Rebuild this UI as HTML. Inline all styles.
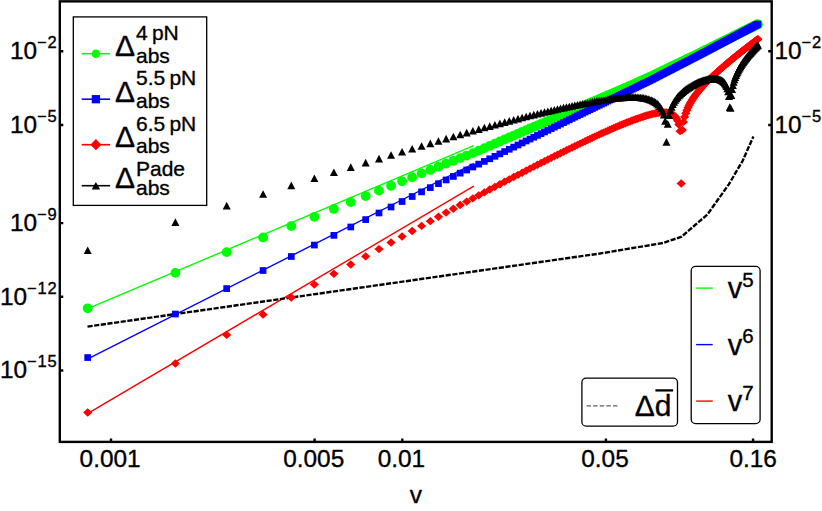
<!DOCTYPE html>
<html><head><meta charset="utf-8"><title>chart</title><style>html,body{margin:0;padding:0;background:#fff;overflow:hidden}svg{display:block}</style></head><body>
<svg width="822" height="511" viewBox="0 0 822 511" font-family="'Liberation Sans', sans-serif" fill="#000">
<style>text{stroke:#000;stroke-width:0.35px}</style>
<rect width="822" height="511" fill="#fff"/>
<defs>
<circle id="mc" r="4.9" fill="#00ff00"/>
<rect id="ms" x="-3.35" y="-3.35" width="6.7" height="6.7" fill="#0000ff"/>
<path id="md" d="M0,-4.2L4.6,0L0,4.2L-4.6,0Z" fill="#ff0000"/>
<path id="mt" d="M0,-3.8L4,3.8L-4,3.8Z" fill="#000"/>
<circle id="lc" r="4.25" fill="#00ff00"/>
<rect id="ls" x="-4.15" y="-4.15" width="8.3" height="8.3" fill="#0000ff"/>
<path id="ld" d="M0,-5.6L5.5,0L0,5.6L-5.5,0Z" fill="#ff0000"/>
<path id="lt" d="M0,-3.7L4.25,3.7L-4.25,3.7Z" fill="#000"/>
<clipPath id="cp"><rect x="59.8" y="1.35" width="711.9" height="440.55"/></clipPath>
</defs>
<g clip-path="url(#cp)">
<polyline points="87.7,308.7 473.8,145.6" fill="none" stroke="#00ff00" stroke-width="1.4"/>
<polyline points="87.85,358.8 473.8,163.5" fill="none" stroke="#0000ff" stroke-width="1.4"/>
<polyline points="87.9,413.4 473.8,186.2" fill="none" stroke="#ff0000" stroke-width="1.4"/>
<polyline points="87.5,326.6 600,253.5 663,243 681.6,236.7 707.4,214.5 728.8,184.4 742.5,161.1 753.4,136.4" fill="none" stroke="#000" stroke-width="2.4" stroke-dasharray="5.2 1.5"/>
<g><use href="#mc" x="87.7" y="308.3"/><use href="#mc" x="175.39" y="272.85"/><use href="#mc" x="226.69" y="252.14"/><use href="#mc" x="263.08" y="237.44"/><use href="#mc" x="291.31" y="226.08"/><use href="#mc" x="314.38" y="216.79"/><use href="#mc" x="333.88" y="208.94"/><use href="#mc" x="350.77" y="202.13"/><use href="#mc" x="365.67" y="196.08"/><use href="#mc" x="379" y="190.66"/><use href="#mc" x="391.06" y="185.77"/><use href="#mc" x="402.07" y="181.29"/><use href="#mc" x="412.19" y="177.18"/><use href="#mc" x="421.57" y="173.37"/><use href="#mc" x="430.3" y="169.92"/><use href="#mc" x="438.46" y="166.69"/><use href="#mc" x="446.13" y="163.66"/><use href="#mc" x="453.36" y="160.81"/><use href="#mc" x="460.2" y="158.1"/><use href="#mc" x="466.69" y="155.57"/><use href="#mc" x="472.86" y="153.16"/><use href="#mc" x="478.75" y="150.65"/><use href="#mc" x="484.37" y="148.21"/><use href="#mc" x="489.76" y="145.88"/><use href="#mc" x="494.92" y="143.64"/><use href="#mc" x="499.88" y="141.49"/><use href="#mc" x="504.66" y="139.44"/><use href="#mc" x="509.26" y="137.46"/><use href="#mc" x="513.7" y="135.55"/><use href="#mc" x="517.99" y="133.7"/><use href="#mc" x="522.13" y="131.92"/><use href="#mc" x="526.15" y="130.19"/><use href="#mc" x="530.04" y="128.52"/><use href="#mc" x="533.82" y="126.94"/><use href="#mc" x="537.49" y="125.4"/><use href="#mc" x="541.05" y="123.86"/><use href="#mc" x="544.52" y="122.36"/><use href="#mc" x="547.89" y="120.9"/><use href="#mc" x="551.18" y="119.48"/><use href="#mc" x="554.38" y="118.09"/><use href="#mc" x="557.5" y="116.74"/><use href="#mc" x="560.55" y="115.42"/><use href="#mc" x="563.53" y="114.17"/><use href="#mc" x="566.44" y="112.94"/><use href="#mc" x="569.28" y="111.74"/><use href="#mc" x="572.06" y="110.57"/><use href="#mc" x="574.78" y="109.42"/><use href="#mc" x="577.45" y="108.3"/><use href="#mc" x="580.05" y="107.2"/><use href="#mc" x="582.61" y="106.12"/><use href="#mc" x="585.12" y="105.06"/><use href="#mc" x="587.57" y="104.03"/><use href="#mc" x="589.98" y="103.01"/><use href="#mc" x="592.35" y="102.01"/><use href="#mc" x="594.67" y="101.03"/><use href="#mc" x="596.95" y="100.07"/><use href="#mc" x="599.19" y="99.13"/><use href="#mc" x="601.39" y="98.19"/><use href="#mc" x="603.55" y="97.26"/><use href="#mc" x="605.68" y="96.35"/><use href="#mc" x="607.77" y="95.46"/><use href="#mc" x="609.82" y="94.58"/><use href="#mc" x="611.85" y="93.71"/><use href="#mc" x="613.84" y="92.86"/><use href="#mc" x="615.8" y="92.02"/><use href="#mc" x="617.73" y="91.19"/><use href="#mc" x="619.64" y="90.37"/><use href="#mc" x="621.51" y="89.57"/><use href="#mc" x="623.36" y="88.78"/><use href="#mc" x="625.18" y="88"/><use href="#mc" x="626.97" y="87.2"/><use href="#mc" x="628.74" y="86.41"/><use href="#mc" x="630.49" y="85.63"/><use href="#mc" x="632.21" y="84.86"/><use href="#mc" x="633.91" y="84.1"/><use href="#mc" x="635.58" y="83.35"/><use href="#mc" x="637.23" y="82.61"/><use href="#mc" x="638.87" y="81.88"/><use href="#mc" x="640.48" y="81.16"/><use href="#mc" x="642.07" y="80.45"/><use href="#mc" x="643.64" y="79.75"/><use href="#mc" x="645.19" y="79.06"/><use href="#mc" x="646.73" y="78.37"/><use href="#mc" x="648.24" y="77.69"/><use href="#mc" x="649.74" y="77.02"/><use href="#mc" x="651.22" y="76.32"/><use href="#mc" x="652.68" y="75.62"/><use href="#mc" x="654.13" y="74.93"/><use href="#mc" x="655.56" y="74.24"/><use href="#mc" x="656.97" y="73.57"/><use href="#mc" x="658.37" y="72.9"/><use href="#mc" x="659.75" y="72.23"/><use href="#mc" x="661.12" y="71.58"/><use href="#mc" x="662.47" y="70.93"/><use href="#mc" x="663.81" y="70.29"/><use href="#mc" x="665.14" y="69.66"/><use href="#mc" x="666.45" y="69.03"/><use href="#mc" x="667.74" y="68.41"/><use href="#mc" x="669.03" y="67.79"/><use href="#mc" x="670.3" y="67.18"/><use href="#mc" x="671.56" y="66.58"/><use href="#mc" x="672.81" y="65.98"/><use href="#mc" x="674.04" y="65.39"/><use href="#mc" x="675.26" y="64.8"/><use href="#mc" x="676.47" y="64.22"/><use href="#mc" x="677.67" y="63.65"/><use href="#mc" x="678.86" y="63.08"/><use href="#mc" x="680.04" y="62.52"/><use href="#mc" x="681.2" y="61.96"/><use href="#mc" x="682.36" y="61.4"/><use href="#mc" x="683.5" y="60.86"/><use href="#mc" x="684.64" y="60.31"/><use href="#mc" x="685.76" y="59.77"/><use href="#mc" x="686.88" y="59.24"/><use href="#mc" x="687.98" y="58.71"/><use href="#mc" x="689.08" y="58.19"/><use href="#mc" x="690.16" y="57.66"/><use href="#mc" x="691.24" y="57.15"/><use href="#mc" x="692.31" y="56.64"/><use href="#mc" x="693.37" y="56.13"/><use href="#mc" x="694.42" y="55.63"/><use href="#mc" x="695.46" y="55.13"/><use href="#mc" x="696.49" y="54.63"/><use href="#mc" x="697.51" y="54.14"/><use href="#mc" x="698.53" y="53.66"/><use href="#mc" x="699.54" y="53.17"/><use href="#mc" x="700.54" y="52.68"/><use href="#mc" x="701.53" y="52.19"/><use href="#mc" x="702.51" y="51.7"/><use href="#mc" x="703.49" y="51.21"/><use href="#mc" x="704.46" y="50.73"/><use href="#mc" x="705.42" y="50.25"/><use href="#mc" x="706.38" y="49.78"/><use href="#mc" x="707.33" y="49.31"/><use href="#mc" x="708.27" y="48.84"/><use href="#mc" x="709.2" y="48.38"/><use href="#mc" x="710.13" y="47.91"/><use href="#mc" x="711.05" y="47.46"/><use href="#mc" x="711.96" y="47"/><use href="#mc" x="712.87" y="46.55"/><use href="#mc" x="713.77" y="46.1"/><use href="#mc" x="714.66" y="45.66"/><use href="#mc" x="715.55" y="45.22"/><use href="#mc" x="716.43" y="44.78"/><use href="#mc" x="717.31" y="44.34"/><use href="#mc" x="718.18" y="43.91"/><use href="#mc" x="719.04" y="43.48"/><use href="#mc" x="719.9" y="43.05"/><use href="#mc" x="720.75" y="42.63"/><use href="#mc" x="721.6" y="42.21"/><use href="#mc" x="722.44" y="41.79"/><use href="#mc" x="723.27" y="41.38"/><use href="#mc" x="724.1" y="40.96"/><use href="#mc" x="724.92" y="40.55"/><use href="#mc" x="725.74" y="40.15"/><use href="#mc" x="726.56" y="39.74"/><use href="#mc" x="727.37" y="39.34"/><use href="#mc" x="728.17" y="38.94"/><use href="#mc" x="728.97" y="38.54"/><use href="#mc" x="729.76" y="38.15"/><use href="#mc" x="730.55" y="37.76"/><use href="#mc" x="731.33" y="37.37"/><use href="#mc" x="732.11" y="36.98"/><use href="#mc" x="732.88" y="36.59"/><use href="#mc" x="733.65" y="36.21"/><use href="#mc" x="734.42" y="35.83"/><use href="#mc" x="735.18" y="35.45"/><use href="#mc" x="735.93" y="35.08"/><use href="#mc" x="736.68" y="34.7"/><use href="#mc" x="737.43" y="34.33"/><use href="#mc" x="738.17" y="33.96"/><use href="#mc" x="738.91" y="33.6"/><use href="#mc" x="739.64" y="33.23"/><use href="#mc" x="740.37" y="32.87"/><use href="#mc" x="741.1" y="32.51"/><use href="#mc" x="741.82" y="32.15"/><use href="#mc" x="742.53" y="31.79"/><use href="#mc" x="743.25" y="31.44"/><use href="#mc" x="743.96" y="31.09"/><use href="#mc" x="744.66" y="30.74"/><use href="#mc" x="745.36" y="30.39"/><use href="#mc" x="746.06" y="30.04"/><use href="#mc" x="746.75" y="29.7"/><use href="#mc" x="747.44" y="29.35"/><use href="#mc" x="748.13" y="29.01"/><use href="#mc" x="748.81" y="28.67"/><use href="#mc" x="749.49" y="28.34"/><use href="#mc" x="750.16" y="28"/><use href="#mc" x="750.83" y="27.67"/><use href="#mc" x="751.5" y="27.33"/><use href="#mc" x="752.17" y="27"/><use href="#mc" x="752.83" y="26.68"/><use href="#mc" x="753.48" y="26.35"/><use href="#mc" x="754.14" y="26.02"/><use href="#mc" x="754.79" y="25.7"/><use href="#mc" x="755.43" y="25.38"/><use href="#mc" x="756.08" y="25.06"/><use href="#mc" x="756.72" y="24.74"/><use href="#mc" x="757.36" y="24.42"/><use href="#mc" x="757.99" y="24.4"/></g>
<g><use href="#ms" x="87.7" y="357.55"/><use href="#ms" x="175.39" y="314.03"/><use href="#ms" x="226.69" y="288.57"/><use href="#ms" x="263.08" y="270.51"/><use href="#ms" x="291.31" y="256.5"/><use href="#ms" x="314.38" y="245.05"/><use href="#ms" x="333.88" y="235.37"/><use href="#ms" x="350.77" y="226.99"/><use href="#ms" x="365.67" y="219.59"/><use href="#ms" x="379" y="212.98"/><use href="#ms" x="391.06" y="206.99"/><use href="#ms" x="402.07" y="201.53"/><use href="#ms" x="412.19" y="196.51"/><use href="#ms" x="421.57" y="191.87"/><use href="#ms" x="430.3" y="187.64"/><use href="#ms" x="438.46" y="183.68"/><use href="#ms" x="446.13" y="179.96"/><use href="#ms" x="453.36" y="176.45"/><use href="#ms" x="460.2" y="173.13"/><use href="#ms" x="466.69" y="169.99"/><use href="#ms" x="472.86" y="166.99"/><use href="#ms" x="478.75" y="164.14"/><use href="#ms" x="484.37" y="161.41"/><use href="#ms" x="489.76" y="158.8"/><use href="#ms" x="494.92" y="156.29"/><use href="#ms" x="499.88" y="153.89"/><use href="#ms" x="504.66" y="151.54"/><use href="#ms" x="509.26" y="149.28"/><use href="#ms" x="513.7" y="147.1"/><use href="#ms" x="517.99" y="145"/><use href="#ms" x="522.13" y="142.96"/><use href="#ms" x="526.15" y="140.98"/><use href="#ms" x="530.04" y="139.07"/><use href="#ms" x="533.82" y="137.22"/><use href="#ms" x="537.49" y="135.42"/><use href="#ms" x="541.05" y="133.66"/><use href="#ms" x="544.52" y="131.96"/><use href="#ms" x="547.89" y="130.3"/><use href="#ms" x="551.18" y="128.69"/><use href="#ms" x="554.38" y="127.12"/><use href="#ms" x="557.5" y="125.58"/><use href="#ms" x="560.55" y="124.08"/><use href="#ms" x="563.53" y="122.62"/><use href="#ms" x="566.44" y="121.19"/><use href="#ms" x="569.28" y="119.8"/><use href="#ms" x="572.06" y="118.43"/><use href="#ms" x="574.78" y="117.09"/><use href="#ms" x="577.45" y="115.79"/><use href="#ms" x="580.05" y="114.5"/><use href="#ms" x="582.61" y="113.27"/><use href="#ms" x="585.12" y="112.05"/><use href="#ms" x="587.57" y="110.86"/><use href="#ms" x="589.98" y="109.69"/><use href="#ms" x="592.35" y="108.55"/><use href="#ms" x="594.67" y="107.42"/><use href="#ms" x="596.95" y="106.32"/><use href="#ms" x="599.19" y="105.23"/><use href="#ms" x="601.39" y="104.17"/><use href="#ms" x="603.55" y="103.12"/><use href="#ms" x="605.68" y="102.09"/><use href="#ms" x="607.77" y="101.07"/><use href="#ms" x="609.82" y="100.08"/><use href="#ms" x="611.85" y="99.1"/><use href="#ms" x="613.84" y="98.13"/><use href="#ms" x="615.8" y="97.18"/><use href="#ms" x="617.73" y="96.24"/><use href="#ms" x="619.64" y="95.32"/><use href="#ms" x="621.51" y="94.41"/><use href="#ms" x="623.36" y="93.52"/><use href="#ms" x="625.18" y="92.64"/><use href="#ms" x="626.97" y="91.77"/><use href="#ms" x="628.74" y="90.91"/><use href="#ms" x="630.49" y="90.06"/><use href="#ms" x="632.21" y="89.23"/><use href="#ms" x="633.91" y="88.41"/><use href="#ms" x="635.58" y="87.59"/><use href="#ms" x="637.23" y="86.79"/><use href="#ms" x="638.87" y="86"/><use href="#ms" x="640.48" y="85.22"/><use href="#ms" x="642.07" y="84.45"/><use href="#ms" x="643.64" y="83.69"/><use href="#ms" x="645.19" y="82.93"/><use href="#ms" x="646.73" y="82.19"/><use href="#ms" x="648.24" y="81.46"/><use href="#ms" x="649.74" y="80.73"/><use href="#ms" x="651.22" y="79.97"/><use href="#ms" x="652.68" y="79.22"/><use href="#ms" x="654.13" y="78.47"/><use href="#ms" x="655.56" y="77.73"/><use href="#ms" x="656.97" y="77"/><use href="#ms" x="658.37" y="76.27"/><use href="#ms" x="659.75" y="75.56"/><use href="#ms" x="661.12" y="74.85"/><use href="#ms" x="662.47" y="74.15"/><use href="#ms" x="663.81" y="73.46"/><use href="#ms" x="665.14" y="72.77"/><use href="#ms" x="666.45" y="72.09"/><use href="#ms" x="667.74" y="71.42"/><use href="#ms" x="669.03" y="70.76"/><use href="#ms" x="670.3" y="70.1"/><use href="#ms" x="671.56" y="69.45"/><use href="#ms" x="672.81" y="68.8"/><use href="#ms" x="674.04" y="68.17"/><use href="#ms" x="675.26" y="67.53"/><use href="#ms" x="676.47" y="66.91"/><use href="#ms" x="677.67" y="66.29"/><use href="#ms" x="678.86" y="65.67"/><use href="#ms" x="680.04" y="65.06"/><use href="#ms" x="681.2" y="64.46"/><use href="#ms" x="682.36" y="63.86"/><use href="#ms" x="683.5" y="63.27"/><use href="#ms" x="684.64" y="62.68"/><use href="#ms" x="685.76" y="62.1"/><use href="#ms" x="686.88" y="61.52"/><use href="#ms" x="687.98" y="60.95"/><use href="#ms" x="689.08" y="60.38"/><use href="#ms" x="690.16" y="59.82"/><use href="#ms" x="691.24" y="59.26"/><use href="#ms" x="692.31" y="58.71"/><use href="#ms" x="693.37" y="58.16"/><use href="#ms" x="694.42" y="57.62"/><use href="#ms" x="695.46" y="57.08"/><use href="#ms" x="696.49" y="56.55"/><use href="#ms" x="697.51" y="56.02"/><use href="#ms" x="698.53" y="55.49"/><use href="#ms" x="699.54" y="54.97"/><use href="#ms" x="700.54" y="54.45"/><use href="#ms" x="701.53" y="53.92"/><use href="#ms" x="702.51" y="53.4"/><use href="#ms" x="703.49" y="52.88"/><use href="#ms" x="704.46" y="52.37"/><use href="#ms" x="705.42" y="51.86"/><use href="#ms" x="706.38" y="51.36"/><use href="#ms" x="707.33" y="50.86"/><use href="#ms" x="708.27" y="50.36"/><use href="#ms" x="709.2" y="49.87"/><use href="#ms" x="710.13" y="49.37"/><use href="#ms" x="711.05" y="48.89"/><use href="#ms" x="711.96" y="48.41"/><use href="#ms" x="712.87" y="47.93"/><use href="#ms" x="713.77" y="47.45"/><use href="#ms" x="714.66" y="46.98"/><use href="#ms" x="715.55" y="46.51"/><use href="#ms" x="716.43" y="46.04"/><use href="#ms" x="717.31" y="45.58"/><use href="#ms" x="718.18" y="45.12"/><use href="#ms" x="719.04" y="44.66"/><use href="#ms" x="719.9" y="44.21"/><use href="#ms" x="720.75" y="43.76"/><use href="#ms" x="721.6" y="43.31"/><use href="#ms" x="722.44" y="42.87"/><use href="#ms" x="723.27" y="42.42"/><use href="#ms" x="724.1" y="41.98"/><use href="#ms" x="724.92" y="41.55"/><use href="#ms" x="725.74" y="41.12"/><use href="#ms" x="726.56" y="40.69"/><use href="#ms" x="727.37" y="40.26"/><use href="#ms" x="728.17" y="39.83"/><use href="#ms" x="728.97" y="39.41"/><use href="#ms" x="729.76" y="38.99"/><use href="#ms" x="730.55" y="38.57"/><use href="#ms" x="731.33" y="38.16"/><use href="#ms" x="732.11" y="37.75"/><use href="#ms" x="732.88" y="37.34"/><use href="#ms" x="733.65" y="36.93"/><use href="#ms" x="734.42" y="36.53"/><use href="#ms" x="735.18" y="36.13"/><use href="#ms" x="735.93" y="35.73"/><use href="#ms" x="736.68" y="35.33"/><use href="#ms" x="737.43" y="34.94"/><use href="#ms" x="738.17" y="34.54"/><use href="#ms" x="738.91" y="34.15"/><use href="#ms" x="739.64" y="33.77"/><use href="#ms" x="740.37" y="33.38"/><use href="#ms" x="741.1" y="33"/><use href="#ms" x="741.82" y="32.61"/><use href="#ms" x="742.53" y="32.24"/><use href="#ms" x="743.25" y="31.86"/><use href="#ms" x="743.96" y="31.48"/><use href="#ms" x="744.66" y="31.11"/><use href="#ms" x="745.36" y="30.74"/><use href="#ms" x="746.06" y="30.37"/><use href="#ms" x="746.75" y="30.01"/><use href="#ms" x="747.44" y="29.64"/><use href="#ms" x="748.13" y="29.28"/><use href="#ms" x="748.81" y="28.92"/><use href="#ms" x="749.49" y="28.56"/><use href="#ms" x="750.16" y="28.2"/><use href="#ms" x="750.83" y="27.85"/><use href="#ms" x="751.5" y="27.49"/><use href="#ms" x="752.17" y="27.14"/><use href="#ms" x="752.83" y="26.79"/><use href="#ms" x="753.48" y="26.45"/><use href="#ms" x="754.14" y="26.1"/><use href="#ms" x="754.79" y="25.76"/><use href="#ms" x="755.43" y="25.41"/><use href="#ms" x="756.08" y="25.07"/><use href="#ms" x="756.72" y="24.73"/><use href="#ms" x="757.36" y="24.4"/><use href="#ms" x="757.99" y="24.08"/></g>
<g><use href="#md" x="87.7" y="412.49"/><use href="#md" x="175.39" y="363.5"/><use href="#md" x="226.69" y="334.88"/><use href="#md" x="263.08" y="314.6"/><use href="#md" x="291.31" y="297.51"/><use href="#md" x="314.38" y="284.62"/><use href="#md" x="333.88" y="273.85"/><use href="#md" x="350.77" y="264.57"/><use href="#md" x="365.67" y="256.39"/><use href="#md" x="379" y="249.1"/><use href="#md" x="391.06" y="242.51"/><use href="#md" x="402.07" y="236.5"/><use href="#md" x="412.19" y="230.99"/><use href="#md" x="421.57" y="225.89"/><use href="#md" x="430.3" y="221.15"/><use href="#md" x="438.46" y="216.73"/><use href="#md" x="446.13" y="212.59"/><use href="#md" x="453.36" y="208.69"/><use href="#md" x="460.2" y="205.01"/><use href="#md" x="466.69" y="201.62"/><use href="#md" x="472.86" y="198.41"/><use href="#md" x="478.75" y="195.36"/><use href="#md" x="484.37" y="192.4"/><use href="#md" x="489.76" y="189.57"/><use href="#md" x="494.92" y="186.85"/><use href="#md" x="499.88" y="184.25"/><use href="#md" x="504.66" y="181.76"/><use href="#md" x="509.26" y="179.36"/><use href="#md" x="513.7" y="177.05"/><use href="#md" x="517.99" y="174.83"/><use href="#md" x="522.13" y="172.68"/><use href="#md" x="526.15" y="170.61"/><use href="#md" x="530.04" y="168.61"/><use href="#md" x="533.82" y="166.67"/><use href="#md" x="537.49" y="164.8"/><use href="#md" x="541.05" y="162.99"/><use href="#md" x="544.52" y="161.23"/><use href="#md" x="547.89" y="159.52"/><use href="#md" x="551.18" y="157.87"/><use href="#md" x="554.38" y="156.26"/><use href="#md" x="557.5" y="154.7"/><use href="#md" x="560.55" y="153.18"/><use href="#md" x="563.53" y="151.7"/><use href="#md" x="566.44" y="150.27"/><use href="#md" x="569.28" y="148.87"/><use href="#md" x="572.06" y="147.51"/><use href="#md" x="574.78" y="146.18"/><use href="#md" x="577.45" y="144.89"/><use href="#md" x="580.05" y="143.63"/><use href="#md" x="582.61" y="142.4"/><use href="#md" x="585.12" y="141.2"/><use href="#md" x="587.57" y="140.02"/><use href="#md" x="589.98" y="138.88"/><use href="#md" x="592.35" y="137.76"/><use href="#md" x="594.67" y="136.67"/><use href="#md" x="596.95" y="135.61"/><use href="#md" x="599.19" y="134.58"/><use href="#md" x="601.39" y="133.57"/><use href="#md" x="603.55" y="132.58"/><use href="#md" x="605.68" y="131.62"/><use href="#md" x="607.77" y="130.68"/><use href="#md" x="609.82" y="129.77"/><use href="#md" x="611.85" y="128.88"/><use href="#md" x="613.84" y="128.01"/><use href="#md" x="615.8" y="127.17"/><use href="#md" x="617.73" y="126.34"/><use href="#md" x="619.64" y="125.54"/><use href="#md" x="621.51" y="124.76"/><use href="#md" x="623.36" y="124"/><use href="#md" x="625.18" y="123.27"/><use href="#md" x="626.97" y="122.55"/><use href="#md" x="628.74" y="121.86"/><use href="#md" x="630.49" y="121.18"/><use href="#md" x="632.21" y="120.53"/><use href="#md" x="633.91" y="119.9"/><use href="#md" x="635.58" y="119.29"/><use href="#md" x="637.23" y="118.71"/><use href="#md" x="638.87" y="118.14"/><use href="#md" x="640.48" y="117.59"/><use href="#md" x="642.07" y="117.04"/><use href="#md" x="643.64" y="116.52"/><use href="#md" x="645.19" y="116.02"/><use href="#md" x="646.73" y="115.54"/><use href="#md" x="648.24" y="115.09"/><use href="#md" x="649.74" y="114.67"/><use href="#md" x="651.22" y="114.28"/><use href="#md" x="652.68" y="113.92"/><use href="#md" x="654.13" y="113.59"/><use href="#md" x="655.56" y="113.29"/><use href="#md" x="656.97" y="113.03"/><use href="#md" x="658.37" y="112.81"/><use href="#md" x="659.75" y="112.62"/><use href="#md" x="661.12" y="112.49"/><use href="#md" x="662.47" y="112.4"/><use href="#md" x="663.81" y="112.37"/><use href="#md" x="665.14" y="112.4"/><use href="#md" x="666.45" y="112.51"/><use href="#md" x="667.74" y="112.69"/><use href="#md" x="669.03" y="112.97"/><use href="#md" x="670.3" y="113.37"/><use href="#md" x="671.56" y="113.9"/><use href="#md" x="672.81" y="114.61"/><use href="#md" x="674.04" y="115.55"/><use href="#md" x="675.26" y="116.79"/><use href="#md" x="676.47" y="118.48"/><use href="#md" x="677.67" y="120.85"/><use href="#md" x="678.86" y="124.48"/><use href="#md" x="680.04" y="131.16"/><use href="#md" x="681.2" y="183.47"/><use href="#md" x="682.36" y="129.98"/><use href="#md" x="683.5" y="121.9"/><use href="#md" x="684.64" y="116.92"/><use href="#md" x="685.76" y="113.2"/><use href="#md" x="686.88" y="110.18"/><use href="#md" x="687.98" y="107.6"/><use href="#md" x="689.08" y="105.33"/><use href="#md" x="690.16" y="103.29"/><use href="#md" x="691.24" y="101.42"/><use href="#md" x="692.31" y="99.7"/><use href="#md" x="693.37" y="98.08"/><use href="#md" x="694.42" y="96.56"/><use href="#md" x="695.46" y="95.12"/><use href="#md" x="696.49" y="93.75"/><use href="#md" x="697.51" y="92.43"/><use href="#md" x="698.53" y="91.17"/><use href="#md" x="699.54" y="89.96"/><use href="#md" x="700.54" y="88.78"/><use href="#md" x="701.53" y="87.64"/><use href="#md" x="702.51" y="86.54"/><use href="#md" x="703.49" y="85.47"/><use href="#md" x="704.46" y="84.43"/><use href="#md" x="705.42" y="83.41"/><use href="#md" x="706.38" y="82.42"/><use href="#md" x="707.33" y="81.45"/><use href="#md" x="708.27" y="80.5"/><use href="#md" x="709.2" y="79.57"/><use href="#md" x="710.13" y="78.66"/><use href="#md" x="711.05" y="77.77"/><use href="#md" x="711.96" y="76.89"/><use href="#md" x="712.87" y="76.03"/><use href="#md" x="713.77" y="75.18"/><use href="#md" x="714.66" y="74.35"/><use href="#md" x="715.55" y="73.53"/><use href="#md" x="716.43" y="72.72"/><use href="#md" x="717.31" y="71.93"/><use href="#md" x="718.18" y="71.14"/><use href="#md" x="719.04" y="70.37"/><use href="#md" x="719.9" y="69.61"/><use href="#md" x="720.75" y="68.86"/><use href="#md" x="721.6" y="68.12"/><use href="#md" x="722.44" y="67.39"/><use href="#md" x="723.27" y="66.67"/><use href="#md" x="724.1" y="65.95"/><use href="#md" x="724.92" y="65.25"/><use href="#md" x="725.74" y="64.55"/><use href="#md" x="726.56" y="63.86"/><use href="#md" x="727.37" y="63.18"/><use href="#md" x="728.17" y="62.51"/><use href="#md" x="728.97" y="61.84"/><use href="#md" x="729.76" y="61.19"/><use href="#md" x="730.55" y="60.53"/><use href="#md" x="731.33" y="59.89"/><use href="#md" x="732.11" y="59.25"/><use href="#md" x="732.88" y="58.62"/><use href="#md" x="733.65" y="57.99"/><use href="#md" x="734.42" y="57.37"/><use href="#md" x="735.18" y="56.76"/><use href="#md" x="735.93" y="56.15"/><use href="#md" x="736.68" y="55.55"/><use href="#md" x="737.43" y="54.95"/><use href="#md" x="738.17" y="54.36"/><use href="#md" x="738.91" y="53.77"/><use href="#md" x="739.64" y="53.19"/><use href="#md" x="740.37" y="52.61"/><use href="#md" x="741.1" y="52.04"/><use href="#md" x="741.82" y="51.47"/><use href="#md" x="742.53" y="50.91"/><use href="#md" x="743.25" y="50.35"/><use href="#md" x="743.96" y="49.8"/><use href="#md" x="744.66" y="49.25"/><use href="#md" x="745.36" y="48.71"/><use href="#md" x="746.06" y="48.17"/><use href="#md" x="746.75" y="47.63"/><use href="#md" x="747.44" y="47.1"/><use href="#md" x="748.13" y="46.57"/><use href="#md" x="748.81" y="46.04"/><use href="#md" x="749.49" y="45.52"/><use href="#md" x="750.16" y="45.01"/><use href="#md" x="750.83" y="44.49"/><use href="#md" x="751.5" y="43.99"/><use href="#md" x="752.17" y="43.48"/><use href="#md" x="752.83" y="42.98"/><use href="#md" x="753.48" y="42.48"/><use href="#md" x="754.14" y="41.98"/><use href="#md" x="754.79" y="41.49"/><use href="#md" x="755.43" y="41"/><use href="#md" x="756.08" y="40.52"/><use href="#md" x="756.72" y="40.04"/><use href="#md" x="757.36" y="39.56"/><use href="#md" x="757.99" y="39.09"/></g>
<g><use href="#mt" x="87.7" y="250.31"/><use href="#mt" x="175.39" y="222.09"/><use href="#mt" x="226.69" y="205.66"/><use href="#mt" x="263.08" y="194.06"/><use href="#mt" x="291.31" y="185.35"/><use href="#mt" x="314.38" y="178.26"/><use href="#mt" x="333.88" y="172.3"/><use href="#mt" x="350.77" y="167.16"/><use href="#mt" x="365.67" y="162.65"/><use href="#mt" x="379" y="158.64"/><use href="#mt" x="391.06" y="155.05"/><use href="#mt" x="402.07" y="151.8"/><use href="#mt" x="412.19" y="148.82"/><use href="#mt" x="421.57" y="146.06"/><use href="#mt" x="430.3" y="143.42"/><use href="#mt" x="438.46" y="140.96"/><use href="#mt" x="446.13" y="138.67"/><use href="#mt" x="453.36" y="136.53"/><use href="#mt" x="460.2" y="134.51"/><use href="#mt" x="466.69" y="132.61"/><use href="#mt" x="472.86" y="130.82"/><use href="#mt" x="478.75" y="129.12"/><use href="#mt" x="484.37" y="127.56"/><use href="#mt" x="489.76" y="126.09"/><use href="#mt" x="494.92" y="124.69"/><use href="#mt" x="499.88" y="123.35"/><use href="#mt" x="504.66" y="122.08"/><use href="#mt" x="509.26" y="120.86"/><use href="#mt" x="513.7" y="119.7"/><use href="#mt" x="517.99" y="118.59"/><use href="#mt" x="522.13" y="117.53"/><use href="#mt" x="526.15" y="116.51"/><use href="#mt" x="530.04" y="115.53"/><use href="#mt" x="533.82" y="114.59"/><use href="#mt" x="537.49" y="113.69"/><use href="#mt" x="541.05" y="112.83"/><use href="#mt" x="544.52" y="112"/><use href="#mt" x="547.89" y="111.2"/><use href="#mt" x="551.18" y="110.44"/><use href="#mt" x="554.38" y="109.7"/><use href="#mt" x="557.5" y="109"/><use href="#mt" x="560.55" y="108.32"/><use href="#mt" x="563.53" y="107.67"/><use href="#mt" x="566.44" y="107.04"/><use href="#mt" x="569.28" y="106.44"/><use href="#mt" x="572.06" y="105.86"/><use href="#mt" x="574.78" y="105.31"/><use href="#mt" x="577.45" y="104.78"/><use href="#mt" x="580.05" y="104.27"/><use href="#mt" x="582.61" y="103.72"/><use href="#mt" x="585.12" y="103.19"/><use href="#mt" x="587.57" y="102.68"/><use href="#mt" x="589.98" y="102.2"/><use href="#mt" x="592.35" y="101.74"/><use href="#mt" x="594.67" y="101.29"/><use href="#mt" x="596.95" y="100.87"/><use href="#mt" x="599.19" y="100.47"/><use href="#mt" x="601.39" y="100.09"/><use href="#mt" x="603.55" y="99.74"/><use href="#mt" x="605.68" y="99.4"/><use href="#mt" x="607.77" y="99.08"/><use href="#mt" x="609.82" y="98.79"/><use href="#mt" x="611.85" y="98.51"/><use href="#mt" x="613.84" y="98.26"/><use href="#mt" x="615.8" y="98.03"/><use href="#mt" x="617.73" y="97.82"/><use href="#mt" x="619.64" y="97.63"/><use href="#mt" x="621.51" y="97.47"/><use href="#mt" x="623.36" y="97.34"/><use href="#mt" x="625.18" y="97.23"/><use href="#mt" x="626.97" y="97.14"/><use href="#mt" x="628.74" y="97.08"/><use href="#mt" x="630.49" y="97.04"/><use href="#mt" x="632.21" y="97.04"/><use href="#mt" x="633.91" y="97.06"/><use href="#mt" x="635.58" y="97.11"/><use href="#mt" x="637.23" y="97.2"/><use href="#mt" x="638.87" y="97.32"/><use href="#mt" x="640.48" y="97.47"/><use href="#mt" x="642.07" y="97.67"/><use href="#mt" x="643.64" y="97.92"/><use href="#mt" x="645.19" y="98.21"/><use href="#mt" x="646.73" y="98.56"/><use href="#mt" x="648.24" y="98.97"/><use href="#mt" x="649.74" y="99.44"/><use href="#mt" x="651.22" y="100"/><use href="#mt" x="652.68" y="100.65"/><use href="#mt" x="654.13" y="101.42"/><use href="#mt" x="655.56" y="102.32"/><use href="#mt" x="656.97" y="103.38"/><use href="#mt" x="658.37" y="104.67"/><use href="#mt" x="659.75" y="106.24"/><use href="#mt" x="661.12" y="108.24"/><use href="#mt" x="662.47" y="110.87"/><use href="#mt" x="663.81" y="114.64"/><use href="#mt" x="665.14" y="120.98"/><use href="#mt" x="666.45" y="141.83"/><use href="#mt" x="667.74" y="123.88"/><use href="#mt" x="669.03" y="115.26"/><use href="#mt" x="670.3" y="110.38"/><use href="#mt" x="671.56" y="106.92"/><use href="#mt" x="672.81" y="104.21"/><use href="#mt" x="674.04" y="101.97"/><use href="#mt" x="675.26" y="100.06"/><use href="#mt" x="676.47" y="98.39"/><use href="#mt" x="677.67" y="96.9"/><use href="#mt" x="678.86" y="95.55"/><use href="#mt" x="680.04" y="94.33"/><use href="#mt" x="681.2" y="93.19"/><use href="#mt" x="682.36" y="92.14"/><use href="#mt" x="683.5" y="91.17"/><use href="#mt" x="684.64" y="90.25"/><use href="#mt" x="685.76" y="89.39"/><use href="#mt" x="686.88" y="88.59"/><use href="#mt" x="687.98" y="87.83"/><use href="#mt" x="689.08" y="87.11"/><use href="#mt" x="690.16" y="86.43"/><use href="#mt" x="691.24" y="85.79"/><use href="#mt" x="692.31" y="85.18"/><use href="#mt" x="693.37" y="84.6"/><use href="#mt" x="694.42" y="84.05"/><use href="#mt" x="695.46" y="83.53"/><use href="#mt" x="696.49" y="83.03"/><use href="#mt" x="697.51" y="82.57"/><use href="#mt" x="698.53" y="82.13"/><use href="#mt" x="699.54" y="81.71"/><use href="#mt" x="700.54" y="81.32"/><use href="#mt" x="701.53" y="80.95"/><use href="#mt" x="702.51" y="80.61"/><use href="#mt" x="703.49" y="80.29"/><use href="#mt" x="704.46" y="79.99"/><use href="#mt" x="705.42" y="79.72"/><use href="#mt" x="706.38" y="79.48"/><use href="#mt" x="707.33" y="79.25"/><use href="#mt" x="708.27" y="79.06"/><use href="#mt" x="709.2" y="78.89"/><use href="#mt" x="710.13" y="78.74"/><use href="#mt" x="711.05" y="78.63"/><use href="#mt" x="711.96" y="78.54"/><use href="#mt" x="712.87" y="78.49"/><use href="#mt" x="713.77" y="78.47"/><use href="#mt" x="714.66" y="78.48"/><use href="#mt" x="715.55" y="78.53"/><use href="#mt" x="716.43" y="78.63"/><use href="#mt" x="717.31" y="78.77"/><use href="#mt" x="718.18" y="78.96"/><use href="#mt" x="719.04" y="79.21"/><use href="#mt" x="719.9" y="79.53"/><use href="#mt" x="720.75" y="79.88"/><use href="#mt" x="721.6" y="80.31"/><use href="#mt" x="722.44" y="80.85"/><use href="#mt" x="723.27" y="81.51"/><use href="#mt" x="724.1" y="82.32"/><use href="#mt" x="724.92" y="83.33"/><use href="#mt" x="725.74" y="84.59"/><use href="#mt" x="726.56" y="86.22"/><use href="#mt" x="727.37" y="88.38"/><use href="#mt" x="728.17" y="91.44"/><use href="#mt" x="728.97" y="96.32"/><use href="#mt" x="729.76" y="107.14"/><use href="#mt" x="730.55" y="107.95"/><use href="#mt" x="731.33" y="95.32"/><use href="#mt" x="732.11" y="89.32"/><use href="#mt" x="732.88" y="85.23"/><use href="#mt" x="733.65" y="82.07"/><use href="#mt" x="734.42" y="79.46"/><use href="#mt" x="735.18" y="77.22"/><use href="#mt" x="735.93" y="75.24"/><use href="#mt" x="736.68" y="73.46"/><use href="#mt" x="737.43" y="71.83"/><use href="#mt" x="738.17" y="70.33"/><use href="#mt" x="738.91" y="68.92"/><use href="#mt" x="739.64" y="67.6"/><use href="#mt" x="740.37" y="66.36"/><use href="#mt" x="741.1" y="65.17"/><use href="#mt" x="741.82" y="64.04"/><use href="#mt" x="742.53" y="62.96"/><use href="#mt" x="743.25" y="61.92"/><use href="#mt" x="743.96" y="60.92"/><use href="#mt" x="744.66" y="59.95"/><use href="#mt" x="745.36" y="59.02"/><use href="#mt" x="746.06" y="58.11"/><use href="#mt" x="746.75" y="57.23"/><use href="#mt" x="747.44" y="56.37"/><use href="#mt" x="748.13" y="55.54"/><use href="#mt" x="748.81" y="54.72"/><use href="#mt" x="749.49" y="53.93"/><use href="#mt" x="750.16" y="53.15"/><use href="#mt" x="750.83" y="52.39"/><use href="#mt" x="751.5" y="51.65"/><use href="#mt" x="752.17" y="50.92"/><use href="#mt" x="752.83" y="50.2"/><use href="#mt" x="753.48" y="49.5"/><use href="#mt" x="754.14" y="48.81"/><use href="#mt" x="754.79" y="48.13"/><use href="#mt" x="755.43" y="47.47"/><use href="#mt" x="756.08" y="46.81"/><use href="#mt" x="756.72" y="46.17"/><use href="#mt" x="757.36" y="45.53"/><use href="#mt" x="757.99" y="44.94"/></g>
</g>
<rect x="59.8" y="1.35" width="711.9" height="440.55" fill="none" stroke="#000" stroke-width="2.4"/>
<path d="M111,441.9 v-3.4 M314.61,441.9 v-3.4 M402.3,441.9 v-3.4 M605.91,441.9 v-3.4 M753.06,441.9 v-3.4 M59.8,51.3 h3.5 M59.8,124.95 h3.5 M59.8,223.15 h3.5 M59.8,296.8 h3.5 M59.8,370.45 h3.5 M771.7,51.3 h-3.5 M771.7,124.95 h-3.5" stroke="#000" stroke-width="2.4" fill="none"/>
<text x="110.1" y="467.4" font-size="24.4" text-anchor="middle">0.001</text>
<text x="313.71" y="467.4" font-size="24.4" text-anchor="middle">0.005</text>
<text x="401.4" y="467.4" font-size="24.4" text-anchor="middle">0.01</text>
<text x="605.01" y="467.4" font-size="24.4" text-anchor="middle">0.05</text>
<text x="753.16" y="467.4" font-size="24.4" text-anchor="middle">0.16</text>
<text x="415.8" y="503" font-size="24.5" text-anchor="middle">v</text>
<text x="57.5" y="59.1" font-size="24.4" text-anchor="end">10<tspan font-size="16.5" dy="-11.0" letter-spacing="0.8">−2</tspan></text>
<text x="57.5" y="132.75" font-size="24.4" text-anchor="end">10<tspan font-size="16.5" dy="-11.0" letter-spacing="0.8">−5</tspan></text>
<text x="57.5" y="230.95" font-size="24.4" text-anchor="end">10<tspan font-size="16.5" dy="-11.0" letter-spacing="0.8">−9</tspan></text>
<text x="57.5" y="304.6" font-size="24.4" text-anchor="end">10<tspan font-size="16.5" dy="-11.0" letter-spacing="0.8">−12</tspan></text>
<text x="57.5" y="378.25" font-size="24.4" text-anchor="end">10<tspan font-size="16.5" dy="-11.0" letter-spacing="0.8">−15</tspan></text>
<text x="774.4" y="59.1" font-size="24.4">10<tspan font-size="16.5" dy="-11.0" letter-spacing="0.8">−2</tspan></text>
<text x="774.4" y="132.75" font-size="24.4">10<tspan font-size="16.5" dy="-11.0" letter-spacing="0.8">−5</tspan></text>
<rect x="73.3" y="16.9" width="133.4" height="188.5" fill="#fff" stroke="#000" stroke-width="1.3"/>
<path d="M81.7,53.7 H110.1" stroke="#00ff00" stroke-width="1.6" fill="none"/>
<use href="#lc" x="95.9" y="53.7"/>
<text x="115.0" y="56.4" font-size="30.0">Δ</text>
<text x="136.0" y="39.7" font-size="21" word-spacing="-1.6">4 pN</text>
<text x="136.0" y="63" font-size="21">abs</text>
<path d="M81.7,99.2 H110.1" stroke="#0000ff" stroke-width="1.6" fill="none"/>
<use href="#ls" x="95.9" y="99.2"/>
<text x="115.0" y="101.7" font-size="30.0">Δ</text>
<text x="136.0" y="85.1" font-size="21" word-spacing="-1.6">5.5 pN</text>
<text x="136.0" y="108.1" font-size="21">abs</text>
<path d="M81.7,144.7 H110.1" stroke="#ff0000" stroke-width="1.6" fill="none"/>
<use href="#ld" x="95.9" y="144.7"/>
<text x="115.0" y="147.1" font-size="30.0">Δ</text>
<text x="136.0" y="130.5" font-size="21" word-spacing="-1.6">6.5 pN</text>
<text x="136.0" y="153.2" font-size="21">abs</text>
<path d="M81.7,185.7 H110.1" stroke="#000" stroke-width="1.6" fill="none"/>
<use href="#lt" x="95.9" y="185.7"/>
<text x="115.0" y="187.8" font-size="30.0">Δ</text>
<text x="136.0" y="176.2" font-size="21" word-spacing="-1.6">Pade</text>
<text x="136.0" y="194.8" font-size="21">abs</text>
<rect x="581.9" y="378.2" width="95.6" height="47.9" rx="4.2" fill="#fff" stroke="#000" stroke-width="1.3"/>
<path d="M586.6,405.9 H617.4" stroke="#333" stroke-width="1" stroke-dasharray="4.4 2.2" fill="none"/>
<text x="634.8" y="415.7" font-size="30.0">Δd</text>
<path d="M655.4,390.4 H673.1" stroke="#000" stroke-width="2.3" fill="none"/>
<rect x="691.2" y="266.4" width="68.9" height="157.2" rx="4.4" fill="#fff" stroke="#000" stroke-width="1.3"/>
<path d="M696.1,288.1 H712.7" stroke="#00ff00" stroke-width="1.4" fill="none"/>
<text x="727.8" y="298.1" font-size="29">v<tspan font-size="20.5" dy="-11.4">5</tspan></text>
<path d="M696.1,344.6 H712.7" stroke="#0000ff" stroke-width="1.4" fill="none"/>
<text x="727.8" y="354.6" font-size="29">v<tspan font-size="20.5" dy="-11.4">6</tspan></text>
<path d="M696.1,401.1 H712.7" stroke="#ff0000" stroke-width="1.4" fill="none"/>
<text x="727.8" y="411.1" font-size="29">v<tspan font-size="20.5" dy="-11.4">7</tspan></text>
<!--LEGENDS-->
</svg>
</body></html>
